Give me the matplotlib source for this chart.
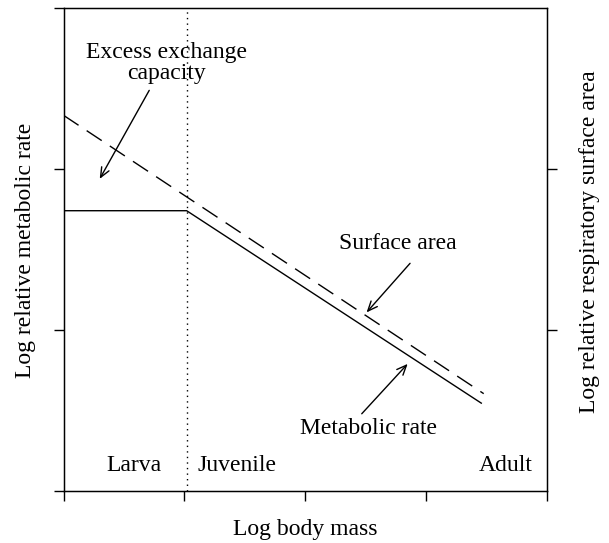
import matplotlib
matplotlib.use("Agg")
import matplotlib.pyplot as plt

plt.rcParams['font.family'] = ['Liberation Serif', 'DejaVu Serif']

# Life-stage boundary (larva -> juvenile) on the log body mass axis
stage_break = 1.02

# Respiratory surface area (dashed line)
surface_x = [0.0, 3.48]
surface_y = [2.335, 0.605]

# Metabolic rate (solid line): flat through larval stage, then declining
metab_x = [0.0, 1.02, 3.46]
metab_y = [1.742, 1.742, 0.546]

stage_names = ["Larva", "Juvenile", "Adult"]
stage_pos = [0.58, 1.44, 3.66]
stage_y = 0.16

xticks = [0, 1, 2, 3, 4]
yticks_left = [0, 1, 2, 3]
yticks_right = [1, 2]

FS = 17

fig = plt.figure(figsize=(6.09, 5.43), dpi=100)
ax = fig.add_axes([63.5/609, 1-491/543, (546.5-63.5)/609, (491-8.3)/543])
ax.set_xlim(0, 4)
ax.set_ylim(0, 3)

ax.plot(surface_x, surface_y, color='black', lw=1.0, linestyle=(0, (13, 7)))
ax.plot(metab_x, metab_y, color='black', lw=1.0)
ax.axvline(stage_break, color='black', lw=1.0, linestyle=(0, (1, 3)))

for name, xp in zip(stage_names, stage_pos):
    ax.text(xp, stage_y, name, ha='center', va='center', fontsize=FS)

arrow = dict(arrowstyle='->,head_length=0.7,head_width=0.3', color='black', lw=1.0,
             shrinkA=0, shrinkB=0)
ax.annotate('', xy=(0.30, 1.94), xytext=(0.71, 2.49), arrowprops=arrow)
ax.text(0.85, 2.66, "Excess exchange\ncapacity", ha='center', va='center',
        fontsize=FS, linespacing=0.95)

ax.annotate('', xy=(2.51, 1.11), xytext=(2.87, 1.415), arrowprops=arrow)
ax.text(2.77, 1.54, "Surface area", ha='center', va='center', fontsize=FS)

ax.annotate('', xy=(2.85, 0.79), xytext=(2.47, 0.48), arrowprops=arrow)
ax.text(2.53, 0.39, "Metabolic rate", ha='center', va='center', fontsize=FS)

ax.set_xticks(xticks)
ax.set_yticks(yticks_left)
ax.tick_params(direction='out', length=7.5, width=1.0, top=False, right=False,
               labelleft=False, labelbottom=False)
for s in ax.spines.values():
    s.set_linewidth(1.0)

ax2 = ax.twinx()
ax2.set_ylim(0, 3)
ax2.set_yticks(yticks_right)
ax2.tick_params(direction='out', length=7.5, width=1.0, labelright=False)

fig.text(305/609, 1-530/543, "Log body mass", ha='center', va='center', fontsize=FS)
fig.text(26/609, 1-250/543, "Log relative metabolic rate", ha='center', va='center',
         rotation=90, fontsize=FS)
fig.text(589/609, 1-242/543, "Log relative respiratory surface area", ha='center',
         va='center', rotation=90, fontsize=FS)

fig.savefig("out.png", dpi=100)
